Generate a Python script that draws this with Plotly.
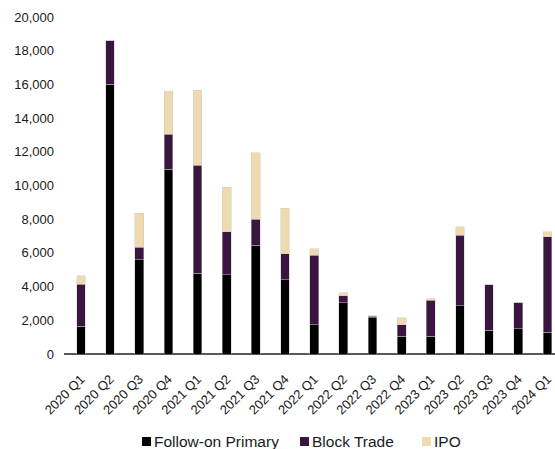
import plotly.graph_objects as go

quarters = ["2020 Q1", "2020 Q2", "2020 Q3", "2020 Q4", "2021 Q1", "2021 Q2",
            "2021 Q3", "2021 Q4", "2022 Q1", "2022 Q2", "2022 Q3", "2022 Q4",
            "2023 Q1", "2023 Q2", "2023 Q3", "2023 Q4", "2024 Q1"]

follow_on_primary = [1650, 16000, 5600, 10950, 4800, 4700, 6450, 4400, 1750,
                     3050, 2150, 1050, 1050, 2850, 1400, 1500, 1300]
block_trade = [2500, 2600, 750, 2100, 6400, 2550, 1550, 1550, 4100,
               400, 100, 700, 2150, 4200, 2700, 1550, 5650]
ipo = [500, 0, 2000, 2550, 4450, 2650, 3950, 2700, 400,
       200, 20, 400, 70, 500, 20, 20, 300]

y_ticks = [0, 2000, 4000, 6000, 8000, 10000, 12000, 14000, 16000, 18000, 20000]

series_names = ["Follow-on Primary", "Block Trade", "IPO"]
series_values = [follow_on_primary, block_trade, ipo]
series_colors = ["#000000", "#3a1540", "#efdab0"]

W, H = 555, 449
M_L, M_R, M_T, M_B = 64, 0, 17, 95
PLOT_W = W - M_L - M_R
PLOT_H = H - M_T - M_B

fig = go.Figure()
for name, values, color in zip(series_names, series_values, series_colors):
    fig.add_trace(go.Bar(
        x=quarters, y=values, name=name,
        marker=dict(color=color, line=dict(color="rgba(200,200,200,0.8)", width=0.6)),
        hoverinfo="x+y+name",
        showlegend=False,
    ))

# Legend drawn as small squares plus labels, laid out in pixels below the axis
legend_left_px = [142, 300, 422]
legend_mid_px = 441.5
sq = 9


def px_x(px):
    return (px - M_L) / PLOT_W


def px_y(py):
    return (H - M_B - py) / PLOT_H


shapes = []
annotations = []
for left, name, color in zip(legend_left_px, series_names, series_colors):
    shapes.append(dict(
        type="rect", xref="paper", yref="paper",
        x0=px_x(left), x1=px_x(left + sq),
        y0=px_y(legend_mid_px + sq / 2), y1=px_y(legend_mid_px - sq / 2),
        fillcolor=color, line=dict(width=0),
    ))
    annotations.append(dict(
        xref="paper", yref="paper",
        x=px_x(left + sq + 1), y=px_y(legend_mid_px),
        xanchor="left", yanchor="middle",
        text=name, showarrow=False,
        font=dict(size=15.5, color="#1a1a1a"),
    ))

fig.update_layout(
    barmode="stack",
    bargap=0.7,
    width=W, height=H,
    margin=dict(l=M_L, r=M_R, t=M_T, b=M_B),
    paper_bgcolor="white",
    plot_bgcolor="white",
    font=dict(family="Liberation Sans, Arial, sans-serif", color="#1a1a1a", size=13),
    xaxis=dict(
        type="category",
        range=[-0.58, 16.26],
        tickangle=-45,
        showgrid=False,
        showline=False,
        ticks="",
        tickfont=dict(size=13),
        automargin=False,
        ticklabelstandoff=14,
    ),
    yaxis=dict(
        range=[0, 20000],
        tickvals=y_ticks,
        tickformat=",d",
        showgrid=False,
        zeroline=True,
        zerolinecolor="#595959",
        zerolinewidth=2,
        showline=False,
        ticks="",
        tickfont=dict(size=13),
        automargin=False,
        ticklabelstandoff=9,
    ),
    shapes=shapes,
    annotations=annotations,
    showlegend=False,
)

fig.write_html("out.html")
